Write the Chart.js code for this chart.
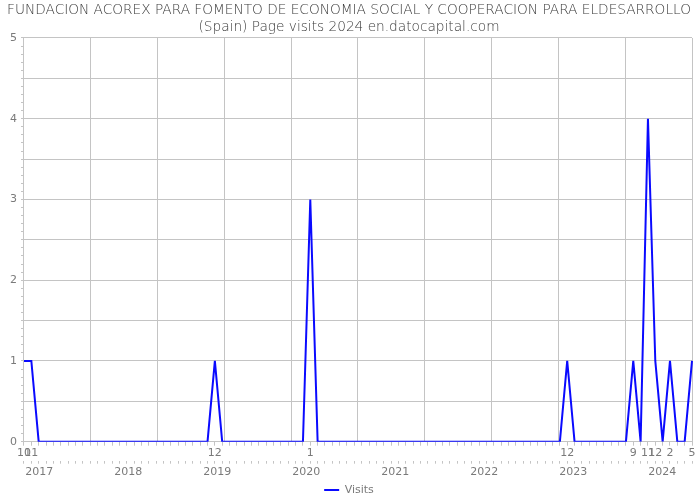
<!DOCTYPE html>
<html>
<head>
<meta charset="utf-8">
<script src="https://cdn.jsdelivr.net/npm/chart.js@4/dist/chart.umd.min.js"></script>
<style>
html,body{margin:0;padding:0;background:#fff;}
#wrap{width:700px;height:500px;}
</style>
</head>
<body>
<div id="wrap"><canvas id="c" width="700" height="500"></canvas></div>
<script>
const titleLines = ['FUNDACION ACOREX PARA FOMENTO DE ECONOMIA SOCIAL Y COOPERACION PARA ELDESARROLLO', '(Spain) Page visits 2024 en.datocapital.com'];
const seriesName = 'Visits';
const months = [
  '2016-10','2016-11','2016-12',
  '2017-01','2017-02','2017-03','2017-04','2017-05','2017-06','2017-07','2017-08','2017-09','2017-10','2017-11','2017-12',
  '2018-01','2018-02','2018-03','2018-04','2018-05','2018-06','2018-07','2018-08','2018-09','2018-10','2018-11','2018-12',
  '2019-01','2019-02','2019-03','2019-04','2019-05','2019-06','2019-07','2019-08','2019-09','2019-10','2019-11','2019-12',
  '2020-01','2020-02','2020-03','2020-04','2020-05','2020-06','2020-07','2020-08','2020-09','2020-10','2020-11','2020-12',
  '2021-01','2021-02','2021-03','2021-04','2021-05','2021-06','2021-07','2021-08','2021-09','2021-10','2021-11','2021-12',
  '2022-01','2022-02','2022-03','2022-04','2022-05','2022-06','2022-07','2022-08','2022-09','2022-10','2022-11','2022-12',
  '2023-01','2023-02','2023-03','2023-04','2023-05','2023-06','2023-07','2023-08','2023-09','2023-10','2023-11','2023-12',
  '2024-01','2024-02','2024-03','2024-04','2024-05'
];
const visits = [
  1,1,0,
  0,0,0,0,0,0,0,0,0,0,0,0,
  0,0,0,0,0,0,0,0,0,0,0,1,
  0,0,0,0,0,0,0,0,0,0,0,0,
  3,0,0,0,0,0,0,0,0,0,0,0,
  0,0,0,0,0,0,0,0,0,0,0,0,
  0,0,0,0,0,0,0,0,0,0,0,1,
  0,0,0,0,0,0,0,0,1,0,4,1,
  0,1,0,0,1
];
const yearTicks = [2017, 2018, 2019, 2020, 2021, 2022, 2023, 2024];
const yTickLabels = [0, 1, 2, 3, 4, 5];

const gridCol = '#c4c4c4';
const textCol = '#7a7a7a';
const fontFam = '"DejaVu Sans", sans-serif';

new Chart(document.getElementById('c'), {
  type: 'line',
  data: {
    labels: months,
    datasets: [{
      label: seriesName,
      data: visits,
      xAxisID: 'x',
      yAxisID: 'y',
      borderColor: '#0a0aff',
      backgroundColor: '#0a0aff',
      borderWidth: 2,
      pointRadius: 0,
      tension: 0,
      fill: false
    }]
  },
  options: {
    responsive: false,
    animation: false,
    layout: { padding: { left: 6, right: 8, top: 2, bottom: -5.5 } },
    plugins: {
      title: {
        display: true,
        text: titleLines,
        color: '#3a3a3a',
        font: { family: fontFam, size: 13.7, weight: 300, lineHeight: 1.24 },
        padding: { top: 0, bottom: 2 }
      },
      legend: {
        position: 'bottom',
        labels: {
          color: textCol,
          font: { family: fontFam, size: 11 },
          usePointStyle: true,
          pointStyle: 'line',
          pointStyleWidth: 15,
          boxHeight: 3,
          padding: 3
        }
      },
      tooltip: { enabled: false }
    },
    scales: {
      x: {
        type: 'category',
        position: 'bottom',
        offset: false,
        grid: { display: true, drawOnChartArea: false, color: gridCol, tickLength: 4 },
        border: { display: true, color: gridCol },
        ticks: {
          autoSkip: false, maxRotation: 0, minRotation: 0, padding: 2,
          color: textCol, font: { family: fontFam, size: 11, lineHeight: 1.0 },
          callback: function(v, i) {
            if (visits[i] > 0) return String(parseInt(months[i].slice(5), 10));
            return '';
          }
        }
      },
      xd: {
        type: 'category',
        position: 'bottom',
        offset: false,
        grid: { display: true, drawOnChartArea: false, color: gridCol, tickLength: 3 },
        border: { display: false },
        ticks: { display: false }
      },
      xy: {
        type: 'linear',
        position: 'bottom',
        min: 2016.83,
        max: 2024.335,
        afterBuildTicks: function(axis) { axis.ticks = yearTicks.map(v => ({ value: v })); },
        grid: { display: false, drawTicks: false },
        border: { display: false },
        ticks: {
          autoSkip: false, maxRotation: 0, padding: -1,
          color: textCol, font: { family: fontFam, size: 11, lineHeight: 1.8 },
          callback: function(v) { return String(v); }
        }
      },
      xg: {
        type: 'linear',
        position: 'bottom',
        min: 0, max: 10,
        afterBuildTicks: function(axis) { const t = []; for (let k = 0; k <= 10; k++) t.push({ value: k }); axis.ticks = t; },
        grid: { display: true, drawTicks: false, color: gridCol },
        border: { display: false },
        ticks: { display: false }
      },
      y: {
        type: 'linear',
        position: 'left',
        min: 0, max: 5,
        afterBuildTicks: function(axis) { const t = []; for (let k = 0; k <= 50; k++) t.push({ value: k / 10 }); axis.ticks = t; },
        grid: {
          color: function(ctx) { const v = ctx.tick ? ctx.tick.value : 0; return Math.abs(v * 2 - Math.round(v * 2)) < 1e-6 ? gridCol : 'rgba(0,0,0,0)'; },
          tickColor: gridCol,
          tickLength: 3
        },
        border: { display: true, color: gridCol },
        ticks: {
          autoSkip: false, padding: 4,
          color: textCol, font: { family: fontFam, size: 11 },
          callback: function(v) {
            const r = Math.round(v);
            if (Math.abs(v - r) < 1e-6 && yTickLabels.includes(r)) return String(r);
            return '';
          }
        }
      }
    }
  }
});
</script>
</body>
</html>
